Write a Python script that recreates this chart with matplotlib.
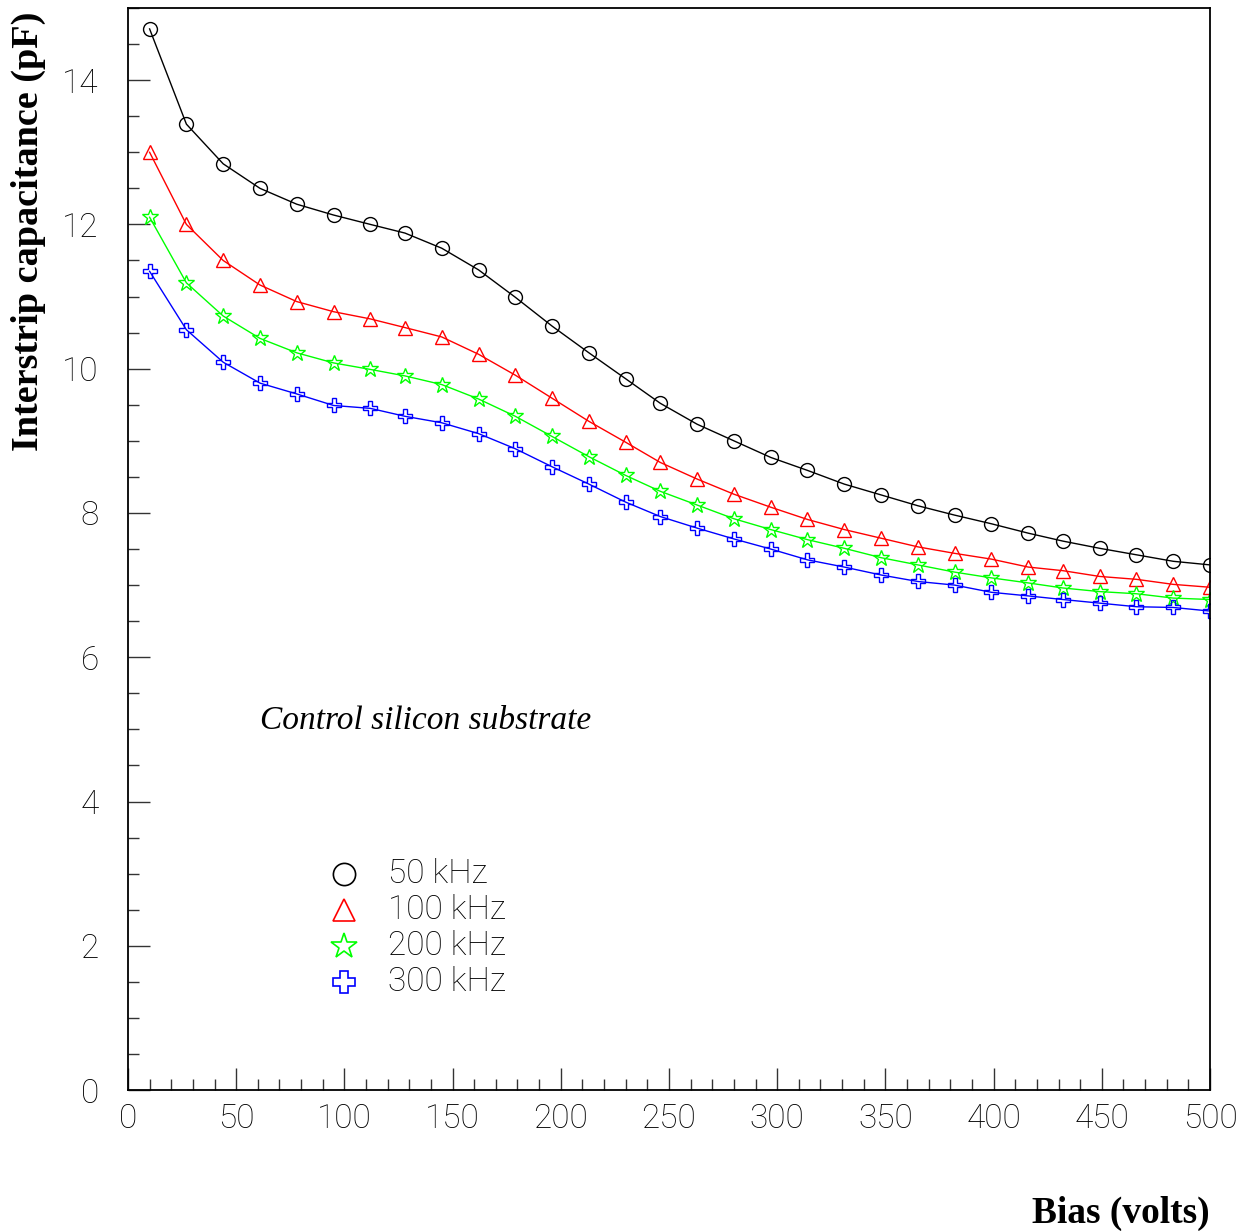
#! /usr/bin/env python3
# -*- coding: utf-8 -*-

import matplotlib
matplotlib.use("Agg")
import matplotlib.pyplot as plt
from matplotlib.ticker import MultipleLocator

## Data

bias = [10, 27, 44, 61, 78, 95, 112, 128, 145, 162,
        179, 196, 213, 230, 246, 263, 280, 297, 314, 331,
        348, 365, 382, 399, 416, 432, 449, 466, 483, 500]

c_50k = [14.71, 13.39, 12.84, 12.50, 12.28, 12.13, 12.00, 11.88, 11.67, 11.37,
         10.99, 10.59, 10.22, 9.86, 9.52, 9.23, 9.00, 8.77, 8.59, 8.40,
         8.25, 8.10, 7.97, 7.85, 7.72, 7.61, 7.51, 7.42, 7.33, 7.28]

c_100k = [13.00, 12.00, 11.50, 11.16, 10.93, 10.79, 10.69, 10.57, 10.44, 10.20,
          9.91, 9.59, 9.27, 8.98, 8.70, 8.47, 8.26, 8.08, 7.91, 7.77,
          7.65, 7.53, 7.44, 7.36, 7.25, 7.20, 7.12, 7.08, 7.01, 6.97]

c_200k = [12.10, 11.19, 10.73, 10.42, 10.22, 10.08, 9.99, 9.90, 9.78, 9.58,
          9.34, 9.06, 8.78, 8.52, 8.30, 8.11, 7.92, 7.77, 7.63, 7.51,
          7.38, 7.28, 7.18, 7.10, 7.03, 6.96, 6.91, 6.88, 6.82, 6.80]

c_300k = [11.35, 10.54, 10.09, 9.80, 9.65, 9.49, 9.45, 9.34, 9.25, 9.10,
          8.89, 8.64, 8.40, 8.15, 7.95, 7.79, 7.64, 7.50, 7.35, 7.25,
          7.14, 7.05, 7.00, 6.90, 6.85, 6.80, 6.75, 6.70, 6.69, 6.64]

labels = ["50 kHz", "100 kHz", "200 kHz", "300 kHz"]
colors = ["black", "#ff0000", "#00ff00", "#0000ff"]
markers = ["o", "^", "*", "P"]
msizes = [10, 10, 12, 10]

# legend rows (data coords)
legend_x = [100, 120]
legend_y = [3.0, 2.5, 2.0, 1.5]


def main():

    thin = dict(family="Roboto", weight="light", size=24)

    fig = plt.figure(figsize=(12.46, 12.31), dpi=100)
    ax = fig.add_axes([0.1027, 0.1145, 0.8684, 0.8790])

    series = [c_50k, c_100k, c_200k, c_300k]
    for vals, col, mk, ms in zip(series, colors, markers, msizes):
        ax.plot(bias, vals, color=col, lw=1.0, marker=mk, ms=ms,
                mfc="none", mec=col, mew=1.0)

    # legend drawn by hand
    for lab, col, mk, ms, yy in zip(labels, colors, markers, msizes, legend_y):
        ax.plot([legend_x[0]], [yy], ls="none", marker=mk, ms=ms * 1.6,
                mfc="none", mec=col, mew=1.2)
        ax.text(legend_x[1], yy, lab, va="center", ha="left", **thin)

    ax.text(61, 5.0, "Control silicon substrate", family="Liberation Serif",
            style="italic", size=24, va="baseline", ha="left")

    ## Axes
    ax.set_xlim(0, 500)
    ax.set_ylim(0, 15)
    ax.xaxis.set_major_locator(MultipleLocator(50))
    ax.xaxis.set_minor_locator(MultipleLocator(10))
    ax.yaxis.set_major_locator(MultipleLocator(2))
    ax.yaxis.set_minor_locator(MultipleLocator(0.5))
    ax.tick_params(which="both", direction="in", top=False, right=False,
                   width=1.0, color="#333333")
    ax.tick_params(which="major", length=16)
    ax.tick_params(which="minor", length=8)
    ax.tick_params(axis="x", pad=9)
    ax.tick_params(axis="y", pad=21)
    for lab in ax.get_xticklabels() + ax.get_yticklabels():
        lab.set_fontfamily("Roboto")
        lab.set_fontweight("light")
        lab.set_fontsize(24)
    for sp in ax.spines.values():
        sp.set_linewidth(1.3)

    fig.text(1210 / 1246, 1 - 1223 / 1231, "Bias (volts)",
             family="Liberation Serif", weight="bold", size=27,
             ha="right", va="baseline")
    fig.text(28 / 1246, 1 - 231 / 1231, "Interstrip capacitance (pF)",
             family="Liberation Serif", weight="bold", size=27.5,
             rotation=90, ha="center", va="center")

    fig.savefig("out.png", dpi=100)


if __name__ == "__main__":
    main()
